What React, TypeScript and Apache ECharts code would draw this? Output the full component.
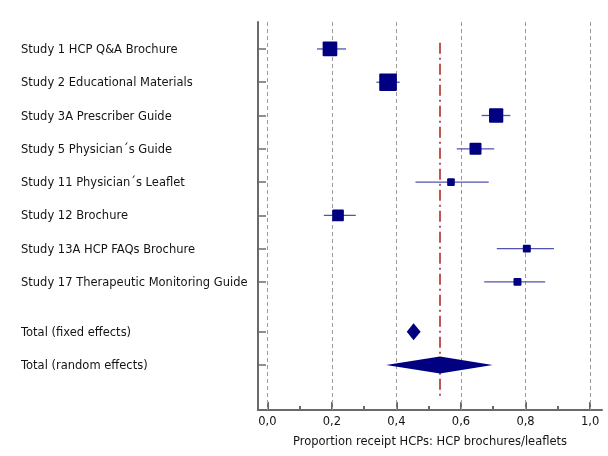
import React, { useEffect, useRef } from "react";
import * as echarts from "echarts";

const studyNames = [
  "Study 1 HCP Q&A Brochure",
  "Study 2 Educational Materials",
  "Study 3A Prescriber Guide",
  "Study 5 Physician´s Guide",
  "Study 11 Physician´s Leaflet",
  "Study 12 Brochure",
  "Study 13A HCP FAQs Brochure",
  "Study 17 Therapeutic Monitoring Guide",
];
const studyEst = [0.194, 0.374, 0.709, 0.645, 0.569, 0.219, 0.804, 0.775];
const studyLo = [0.154, 0.338, 0.664, 0.587, 0.459, 0.175, 0.711, 0.672];
const studyHi = [0.244, 0.41, 0.753, 0.703, 0.686, 0.274, 0.888, 0.861];
const studyWeight = [18.0, 26.1, 17.0, 12.0, 4.9, 11.4, 5.3, 5.3];
const studyRows = [0, 1, 2, 3, 4, 5, 6, 7];

const totalNames = ["Total (fixed effects)", "Total (random effects)"];
const totalEst = [0.453, 0.535];
const totalLo = [0.432, 0.368];
const totalHi = [0.475, 0.698];
const totalRows = [8.5, 9.5];

const xMajorTicks = [0, 0.2, 0.4, 0.6, 0.8, 1.0];
const xMinorTicks = [0.1, 0.3, 0.5, 0.7, 0.9];
const xTitle = "Proportion receipt HCPs: HCP brochures/leaflets";

const FONT = "DejaVu Sans";
const AXIS_COLOR = "#6a6a6a";
const TEXT_COLOR = "#141414";

export default function App() {
  const ref = useRef<HTMLDivElement>(null);
  useEffect(() => {
    if (!ref.current) return;
    const chart = echarts.init(ref.current, undefined, { renderer: "svg" });
    const rowLabel: Record<string, string> = {};
    studyRows.forEach((r, i) => (rowLabel[String(r)] = studyNames[i]));
    totalRows.forEach((r, i) => (rowLabel[String(r)] = totalNames[i]));
    const yTicks = [...studyRows, ...totalRows];

    const xMin = -0.029;
    const xMax = 1.037;
    const yMin = -0.81;
    const yMax = 10.85;

    const studyData = studyEst.map((e, i) => [e, studyLo[i], studyHi[i], studyRows[i], studyWeight[i]]);
    const totalData = totalEst.map((e, i) => [e, totalLo[i], totalHi[i], totalRows[i]]);

    const option: any = {
      animation: false,
      grid: { left: 258, top: 22, width: 344, height: 388, containLabel: false },
      xAxis: [
        {
          type: "value",
          min: xMin,
          max: xMax,
          position: "bottom",
          axisLine: { show: true, onZero: false, lineStyle: { color: AXIS_COLOR, width: 2 } },
          axisTick: { show: true, inside: true, length: 8, customValues: xMajorTicks, lineStyle: { color: AXIS_COLOR, width: 2 } },
          axisLabel: {
            show: true,
            customValues: xMajorTicks,
            formatter: (v: number) => v.toFixed(1).replace(".", ","),
            color: TEXT_COLOR,
            fontFamily: FONT,
            fontSize: 11.5,
            margin: 5,
          },
          splitLine: { show: false },
          name: xTitle,
          nameLocation: "middle",
          nameGap: 25,
          nameTextStyle: { color: TEXT_COLOR, fontFamily: FONT, fontSize: 11.5 },
        },
        {
          type: "value",
          min: xMin,
          max: xMax,
          position: "bottom",
          axisLine: { show: false, onZero: false },
          axisTick: { show: true, inside: true, length: 4, customValues: xMinorTicks, lineStyle: { color: AXIS_COLOR, width: 2 } },
          axisLabel: { show: false },
          splitLine: { show: false },
        },
      ],
      yAxis: {
        type: "value",
        inverse: true,
        min: yMin,
        max: yMax,
        axisLine: { show: true, onZero: false, lineStyle: { color: AXIS_COLOR, width: 2 } },
        axisTick: { show: true, inside: true, length: 8, customValues: yTicks, lineStyle: { color: AXIS_COLOR, width: 1.5 } },
        axisLabel: {
          show: true,
          customValues: yTicks,
          formatter: (v: number) => rowLabel[String(v)] ?? "",
          align: "left",
          margin: 237,
          color: TEXT_COLOR,
          fontFamily: FONT,
          fontSize: 11.5,
        },
        splitLine: { show: false },
      },
      series: [
        {
          type: "scatter",
          name: "grid",
          data: [],
          silent: true,
          z: 1,
          markLine: {
            silent: true,
            symbol: "none",
            z: 1,
            label: { show: false },
            lineStyle: { color: "#9a9a9a", width: 1, type: [4, 3] },
            data: xMajorTicks.map((v) => ({ xAxis: v })),
          },
        },
        {
          type: "scatter",
          name: "ref",
          data: [],
          silent: true,
          z: 2,
          markLine: {
            silent: true,
            symbol: "none",
            z: 2,
            label: { show: false },
            lineStyle: { color: "#b01c1c", width: 1.5, type: [11, 4, 2, 4] },
            data: [[{ coord: [totalEst[1], -0.19] }, { coord: [totalEst[1], 10.54] }]],
          },
        },
        {
          type: "custom",
          name: "studies",
          z: 5,
          data: studyData,
          encode: { x: [0, 1, 2], y: 3 },
          renderItem: (params: any, api: any) => {
            const y = api.value(3);
            const lo = api.coord([api.value(1), y]);
            const hi = api.coord([api.value(2), y]);
            const c = api.coord([api.value(0), y]);
            const s = 3.46 * Math.sqrt(api.value(4));
            return {
              type: "group",
              children: [
                {
                  type: "line",
                  shape: { x1: lo[0], y1: lo[1], x2: hi[0], y2: hi[1] },
                  style: { stroke: "#5252b0", lineWidth: 1.3 },
                },
                {
                  type: "rect",
                  shape: { x: c[0] - s / 2, y: c[1] - s / 2, width: s, height: s, r: 1 },
                  style: { fill: "#000080" },
                },
              ],
            };
          },
        },
        {
          type: "custom",
          name: "totals",
          z: 5,
          data: totalData,
          encode: { x: [0, 1, 2], y: 3 },
          renderItem: (params: any, api: any) => {
            const y = api.value(3);
            const lo = api.coord([api.value(1), y]);
            const hi = api.coord([api.value(2), y]);
            const c = api.coord([api.value(0), y]);
            const h = 8.5;
            return {
              type: "polygon",
              shape: { points: [[lo[0], lo[1]], [c[0], c[1] - h], [hi[0], hi[1]], [c[0], c[1] + h]] },
              style: { fill: "#000080" },
            };
          },
        },
      ],
    };
    chart.setOption(option);
    return () => chart.dispose();
  }, []);
  return <div ref={ref} style={{ position: "fixed", left: 0, top: 0, width: 608, height: 456 }} />;
}
